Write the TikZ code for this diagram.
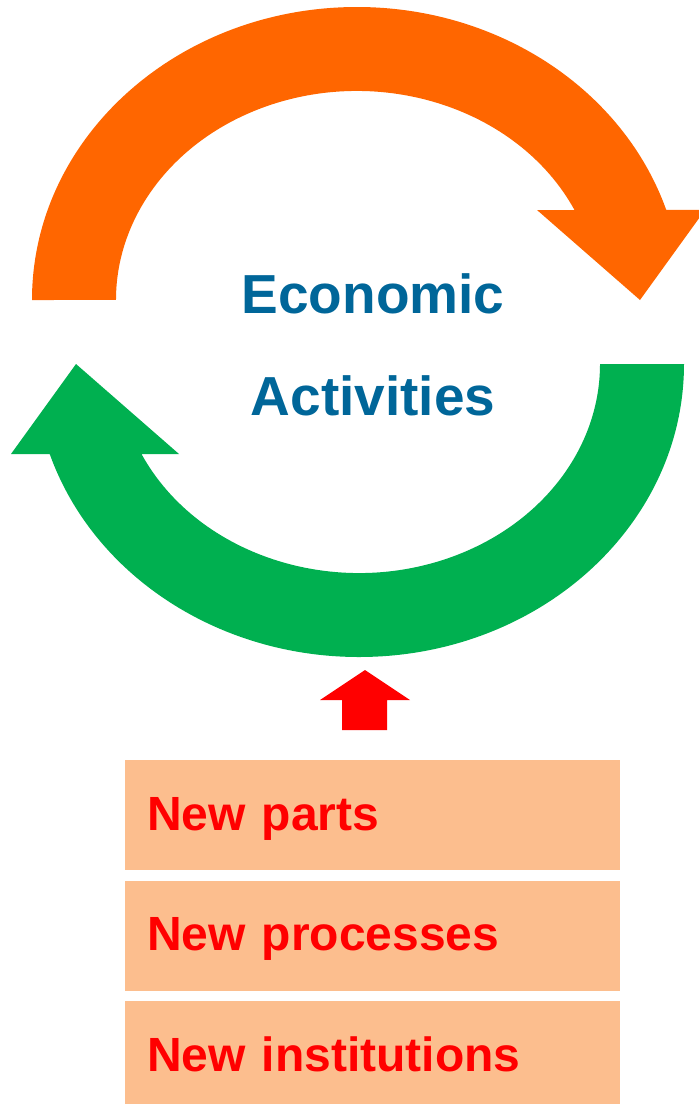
\documentclass[tikz,border=0pt]{standalone}
\usepackage{fontspec}
\setmainfont{Liberation Sans}
\usepackage{tikz}
\usetikzlibrary{positioning}
\definecolor{cycorange}{HTML}{FF6600}
\definecolor{cycgreen}{HTML}{00B050}
\definecolor{titleblue}{HTML}{006699}
\definecolor{boxfill}{HTML}{FCBE8E}
\tikzset{
  itembox/.style={fill=boxfill, anchor=north west, minimum width=495pt, minimum height=110pt,
    inner xsep=22pt, text width=451pt, align=left, text height=35pt, text depth=5pt,
    text=red, font=\fontsize{48}{56}\selectfont\bfseries},
  titletext/.style={anchor=base, text=titleblue, font=\fontsize{55}{64}\selectfont\bfseries}
}

\begin{document}
\begin{tikzpicture}[x=1pt,y=-1pt]
    \useasboundingbox (0,0) rectangle (699,1104);
    %Upper arc
    \fill[cycorange] (32,300) arc[start angle=180, end angle=342.1, x radius=325, y radius=293]
        -- (705,210) -- (640,300) -- (537,210) -- (574.5,210)
        arc[start angle=334.5, end angle=180, x radius=241, y radius=209] -- cycle;
    %Lower arc
    \fill[cycgreen] (684,364) arc[start angle=0, end angle=162.1, x radius=325, y radius=293]
        -- (11,454) -- (76,364) -- (179,454) -- (141.5,454)
        arc[start angle=154.5, end angle=0, x radius=241, y radius=209] -- cycle;
    %Title
    \node[titletext] (econ) at (373,313) {Economic};
    \node[titletext] (act) at (373,415) {Activities};
    %Push arrow
    \fill[red] (342,730) -- (342,700) -- (320,700) -- (365,670) -- (410,700) -- (387,700) -- (387,730) -- cycle;
    %Boxes
    \node[itembox] (parts) at (125,760) {New parts};
    \node[itembox, below=10pt of parts] (procs) {New processes};
    \node[itembox, below=10pt of procs] (insts) {New institutions};
\end{tikzpicture}
\end{document}
